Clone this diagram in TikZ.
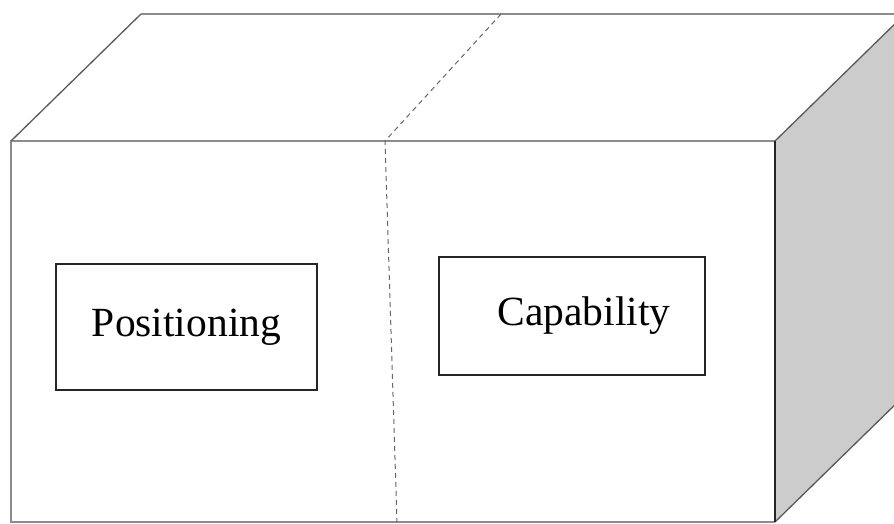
\documentclass[tikz,border=0pt]{standalone}
\usepackage{fontspec}
\setmainfont{Liberation Serif}
\usetikzlibrary{positioning}

\begin{document}
\begin{tikzpicture}[
    x=1pt, y=-1pt,
    every node/.style={font=\fontsize{41.5}{48}\selectfont},
    edge/.style={draw=black!45, line width=1.6pt},
    slant/.style={draw=black!65, line width=1.3pt},
    split/.style={draw=black!60, line width=1pt, dashed, dash pattern=on 5pt off 4pt},
    panel/.style={rectangle, draw=black!85, line width=1.2pt, inner sep=0pt},
]
\useasboundingbox (0,0) rectangle (894,523);
\clip (0,0) rectangle (894,523);

% -------- corners of the box --------
\coordinate (ftl) at (11,141);
\coordinate (ftr) at (775,141);
\coordinate (fbl) at (11,522);
\coordinate (fbr) at (775,522);
\coordinate (btl) at (141,14);
\coordinate (btr) at (905,14);
\coordinate (bbr) at (905,395);

% split line between the two halves
\coordinate (stop) at (501,14);
\coordinate (smid) at (385,141);
\coordinate (sbot) at (397,522);

% -------- right face (shaded) --------
\fill[black!20] (ftr) -- (btr) -- (bbr) -- (fbr) -- cycle;

% -------- edges --------
\draw[edge] (fbr) -- (fbl) -- (ftl) -- (ftr);
\draw[edge] (btl) -- (btr);
\draw[slant] (ftl) -- (btl);
\draw[slant] (ftr) -- (btr);
\draw[slant] (fbr) -- (bbr);
\draw[black!85, line width=1.3pt] (ftr) -- (fbr);

% dashed divider
\draw[split] (stop) -- (smid) -- (sbot);

% -------- the two panels --------
\node[panel, minimum width=261pt, minimum height=126pt] (pos) at (186.5,327) {Positioning};
\node[panel, minimum width=266pt, minimum height=118pt] (cap) at (572,316) {\hspace*{24pt}Capability};

\end{tikzpicture}
\end{document}
